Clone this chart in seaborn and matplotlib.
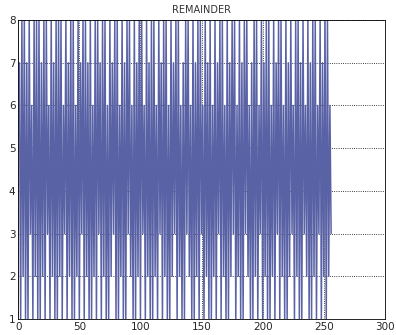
import matplotlib
matplotlib.use("Agg")
import matplotlib.pyplot as plt
import seaborn as sns
import pandas as pd

# remainder sequence, 256 samples (n = 1..256)
remainder = [
    7, 1, 8, 2, 8, 1, 7, 1, 8, 3, 6, 1, 8, 2, 8, 1,
    8, 1, 7, 2, 8, 1, 8, 3, 6, 1, 8, 2, 7, 1, 8, 1,
    8, 2, 8, 1, 6, 3, 8, 1, 7, 2, 8, 1, 8, 1, 6, 2,
    8, 1, 7, 3, 8, 1, 8, 2, 7, 1, 8, 1, 6, 2, 8, 1,
    8, 3, 7, 1, 8, 2, 8, 1, 6, 1, 8, 2, 7, 3, 8, 1,
    8, 1, 6, 2, 8, 1, 7, 1, 8, 3, 8, 2, 6, 1, 8, 1,
    7, 2, 8, 1, 8, 3, 6, 1, 8, 2, 7, 1, 8, 1, 8, 2,
    6, 1, 8, 3, 7, 1, 8, 2, 8, 1, 6, 1, 8, 2, 7, 3,
    8, 1, 8, 2, 6, 1, 7, 1, 8, 3, 8, 2, 6, 1, 8, 1,
    7, 2, 8, 1, 8, 3, 6, 1, 8, 2, 7, 1, 8, 1, 6, 2,
    8, 1, 7, 3, 8, 1, 8, 2, 6, 1, 8, 1, 7, 2, 8, 3,
    8, 1, 6, 2, 8, 1, 7, 1, 8, 3, 8, 2, 6, 1, 7, 1,
    8, 2, 8, 1, 6, 3, 8, 1, 7, 2, 8, 1, 8, 1, 6, 2,
    8, 1, 7, 3, 8, 1, 8, 2, 6, 1, 8, 1, 7, 2, 8, 3,
    6, 1, 8, 2, 8, 1, 7, 1, 8, 3, 6, 2, 8, 1, 7, 1,
    8, 2, 8, 1, 6, 3, 8, 1, 7, 2, 8, 1, 8, 2, 6, 3,
]
n = list(range(1, len(remainder) + 1))

df = pd.DataFrame({"n": n, "remainder": remainder})

sns.set_style("white")
fig = plt.figure(figsize=(3.96, 3.35), dpi=100)
ax = fig.add_axes([0.046, 0.048, 0.926, 0.892])

sns.lineplot(data=df, x="n", y="remainder", ax=ax, color="#5a62a6", linewidth=1.1)

ax.set_xlim(0, 300)
ax.set_ylim(1, 8)
ax.set_xticks([0, 50, 100, 150, 200, 250, 300])
ax.set_yticks(range(1, 9))
ax.grid(True, color="black", linestyle=":", linewidth=0.6)
ax.tick_params(direction="in", labelsize=7.5, length=3, pad=2)
ax.set_xlabel("")
ax.set_ylabel("")
ax.set_title("REMAINDER", fontsize=7, pad=5, color="#333333")
for s in ax.spines.values():
    s.set_color("black")
    s.set_linewidth(0.6)

fig.savefig("out.png", dpi=100)
